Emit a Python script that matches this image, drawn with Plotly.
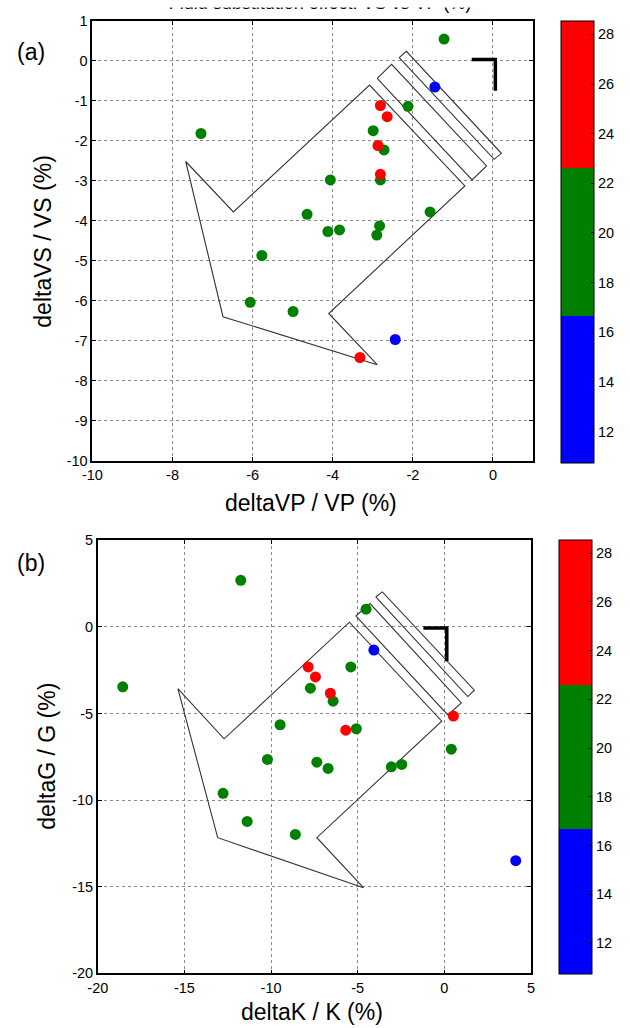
import plotly.graph_objects as go

W, H = 630, 1028

# ---------------- data: panel (a) ----------------
dvp_pct = [-1.22, -2.12, -7.29, -2.99, -2.72, -4.06, -2.81, -4.64, -1.57, -4.12, -3.83,
           -2.83, -2.90, -5.77, -6.06, -4.99,
           -2.81, -2.64, -2.87, -2.81, -3.32,
           -1.45, -2.44]
dvs_pct = [0.54, -1.14, -1.82, -1.75, -2.23, -2.98, -2.98, -3.84, -3.78, -4.27, -4.23,
           -4.13, -4.36, -4.87, -6.04, -6.27,
           -1.12, -1.40, -2.12, -2.84, -7.42,
           -0.66, -6.97]
cval_a = [19.5, 21.0, 18.2, 20.4, 22.0, 17.8, 19.0, 20.8, 21.6, 18.6, 19.9,
          17.2, 20.1, 21.3, 18.9, 19.3,
          24.1, 25.3, 26.7, 23.4, 28.56,
          10.75, 14.2]

# outline polygon + two strips (a), None separates pieces
outline_a_x = [-7.67, -6.48, -3.08, -0.70, -4.10, -2.89, -6.74, -7.67, None,
               -2.89, -2.53, -0.16, -0.52, -2.89, None,
               -2.34, -2.16, 0.21, 0.03, -2.34]
outline_a_y = [-2.52, -3.78, -0.61, -3.13, -6.32, -7.60, -6.40, -2.52, None,
               -0.44, -0.09, -2.63, -2.98, -0.44, None,
               0.075, 0.235, -2.315, -2.465, 0.075]
corner_a_x = [-0.53, 0.06, 0.06]
corner_a_y = [0.03, 0.03, -0.75]

# ---------------- data: panel (b) ----------------
dk_pct = [-11.75, -4.52, -5.40, -7.73, -6.42, -9.48, -5.08, 0.40, -10.21, -7.36, -6.71,
          -3.06, -2.46, -12.77, -11.38, -8.60, -18.56,
          -7.86, -7.44, -6.58, 0.52, -5.69,
          -4.07, 4.12]
dg_pct = [2.69, 1.02, -2.31, -3.54, -4.29, -5.65, -5.88, -7.06, -7.65, -7.81, -8.17,
          -8.08, -7.94, -9.61, -11.23, -11.98, -3.46,
          -2.31, -2.89, -3.83, -5.15, -5.96,
          -1.34, -13.50]
cval_b = [19.5, 21.0, 18.2, 20.4, 22.0, 17.8, 19.0, 20.8, 21.6, 18.6, 19.9,
          17.2, 20.1, 21.3, 18.9, 19.3, 20.6,
          24.1, 25.3, 26.7, 23.4, 28.56,
          10.75, 14.2]

outline_b_x = [-15.38, -12.71, -5.48, -0.15, -7.36, -4.67, -13.08, -15.38, None,
               -5.11, -4.29, 0.98, 0.20, -5.11, None,
               -3.96, -3.58, 1.73, 1.35, -3.96]
outline_b_y = [-3.56, -6.46, 0.27, -5.44, -12.17, -15.06, -12.17, -3.56, None,
               0.63, 1.35, -4.39, -5.08, 0.63, None,
               1.73, 2.02, -3.65, -4.02, 1.73]
corner_b_x = [-1.21, 0.14, 0.14]
corner_b_y = [-0.06, -0.06, -1.98]

# tick labels (plain hyphen as in the original)
xt_a = [-10, -8, -6, -4, -2, 0]
yt_a = [-10, -9, -8, -7, -6, -5, -4, -3, -2, -1, 0, 1]
xt_b = [-20, -15, -10, -5, 0, 5]
yt_b = [-20, -15, -10, -5, 0, 5]
cb_ticks = [12, 14, 16, 18, 20, 22, 24, 26, 28]

title_text = "Fluid substitution effect: VS vs VP (%)"

# ---------------- styling ----------------
FONT = "Liberation Sans, Arial, sans-serif"
scale = [[0, "#0000FF"], [1/3, "#0000FF"], [1/3, "#008000"], [2/3, "#008000"],
         [2/3, "#FF0000"], [1, "#FF0000"]]
cmin = min(cval_a + cval_b)
cmax = max(cval_a + cval_b)


def fx(p):
    return p / W


def fy(p):
    return 1 - p / H


def lab(v):
    return str(v)


fig = go.Figure()

line_style = dict(color="#333333", width=1.1)
for xs, ys, cx, cy, xa, ya in [(outline_a_x, outline_a_y, corner_a_x, corner_a_y, "x", "y"),
                               (outline_b_x, outline_b_y, corner_b_x, corner_b_y, "x2", "y2")]:
    fig.add_trace(go.Scatter(x=xs, y=ys, mode="lines", line=line_style,
                             xaxis=xa, yaxis=ya, showlegend=False, hoverinfo="skip"))
    fig.add_trace(go.Scatter(x=cx, y=cy, mode="lines", line=dict(color="black", width=3.5),
                             xaxis=xa, yaxis=ya, showlegend=False, hoverinfo="skip"))


def cbar(x0, top, length):
    return dict(x=fx(x0), xanchor="left", y=fy(top), yanchor="top",
                len=length, lenmode="pixels", thickness=33, thicknessmode="pixels",
                xpad=0, ypad=0, outlinecolor="black", outlinewidth=1,
                tickvals=cb_ticks, ticktext=[lab(v) for v in cb_ticks],
                ticks="inside", ticklen=3, tickcolor="black",
                tickfont=dict(family=FONT, size=14.5, color="black"))


fig.add_trace(go.Scatter(x=dvp_pct, y=dvs_pct, mode="markers", xaxis="x", yaxis="y",
                         marker=dict(size=11, color=cval_a, colorscale=scale, cmin=cmin, cmax=cmax,
                                     line=dict(width=0), showscale=True,
                                     colorbar=cbar(561, 20.5, 442)),
                         showlegend=False))
fig.add_trace(go.Scatter(x=dk_pct, y=dg_pct, mode="markers", xaxis="x2", yaxis="y2",
                         marker=dict(size=11, color=cval_b, colorscale=scale, cmin=cmin, cmax=cmax,
                                     line=dict(width=0), showscale=True,
                                     colorbar=cbar(559, 539.5, 434)),
                         showlegend=False))

# title: only the lower part of the glyphs is visible, as in the original
fig.add_trace(go.Scatter(x=[320], y=[4.5], mode="text", text=[title_text],
                         textposition="middle center",
                         textfont=dict(family=FONT, size=18, color="black"),
                         xaxis="x3", yaxis="y3", showlegend=False, hoverinfo="skip",
                         cliponaxis=True))

axis_common = dict(showline=True, linecolor="black", linewidth=1.6, mirror="allticks",
                   ticks="inside", ticklen=4, tickcolor="black", tickwidth=1,
                   showgrid=True, gridcolor="#8a8a8a", griddash="dot", gridwidth=1,
                   zeroline=False, automargin=False,
                   tickfont=dict(family=FONT, size=14.5, color="black"))

fig.update_layout(
    width=W, height=H,
    margin=dict(l=0, r=0, t=0, b=0),
    paper_bgcolor="white", plot_bgcolor="white",
    font=dict(family=FONT, size=14, color="black"),
    xaxis=dict(domain=[fx(92.4), fx(533)], range=[-10, 1], anchor="y",
               tickvals=xt_a, ticktext=[lab(v) for v in xt_a], **axis_common),
    yaxis=dict(domain=[fy(460.7), fy(20.7)], range=[-10, 1], anchor="x",
               tickvals=yt_a, ticktext=[lab(v) for v in yt_a], **axis_common),
    xaxis2=dict(domain=[fx(97.8), fx(531)], range=[-20, 5], anchor="y2",
                tickvals=xt_b, ticktext=[lab(v) for v in xt_b], **axis_common),
    yaxis2=dict(domain=[fy(973.3), fy(540.3)], range=[-20, 5], anchor="x2",
                tickvals=yt_b, ticktext=[lab(v) for v in yt_b], **axis_common),
    xaxis3=dict(domain=[0, 1], range=[0, W], anchor="y3", visible=False),
    yaxis3=dict(domain=[fy(20), fy(7)], range=[20, 7], anchor="x3", visible=False),
)

# white band over the very top of the page (hides the upper part of the title glyphs)
fig.add_shape(type="rect", xref="paper", yref="paper", x0=0, x1=1, y0=fy(7.5), y1=1.01,
              fillcolor="white", line=dict(width=0), layer="above")

ann = dict(xref="paper", yref="paper", showarrow=False,
           font=dict(family=FONT, size=23, color="black"))
fig.add_annotation(text="deltaVP / VP (%)", x=fx(311), y=fy(503), xanchor="center", yanchor="middle", **ann)
fig.add_annotation(text="deltaVS / VS (%)", x=fx(43), y=fy(240.7), xanchor="center", yanchor="middle",
                   textangle=-90, **ann)
fig.add_annotation(text="deltaK / K (%)", x=fx(312), y=fy(1012), xanchor="center", yanchor="middle", **ann)
fig.add_annotation(text="deltaG / G (%)", x=fx(47), y=fy(756.7), xanchor="center", yanchor="middle",
                   textangle=-90, **ann)
fig.add_annotation(text="(a)", x=fx(31), y=fy(52), xanchor="center", yanchor="middle", **ann)
fig.add_annotation(text="(b)", x=fx(31), y=fy(563), xanchor="center", yanchor="middle", **ann)

fig.write_html("out.html", config={"displayModeBar": False},
               post_script="document.body.style.margin='0px';document.body.style.overflow='hidden';")
